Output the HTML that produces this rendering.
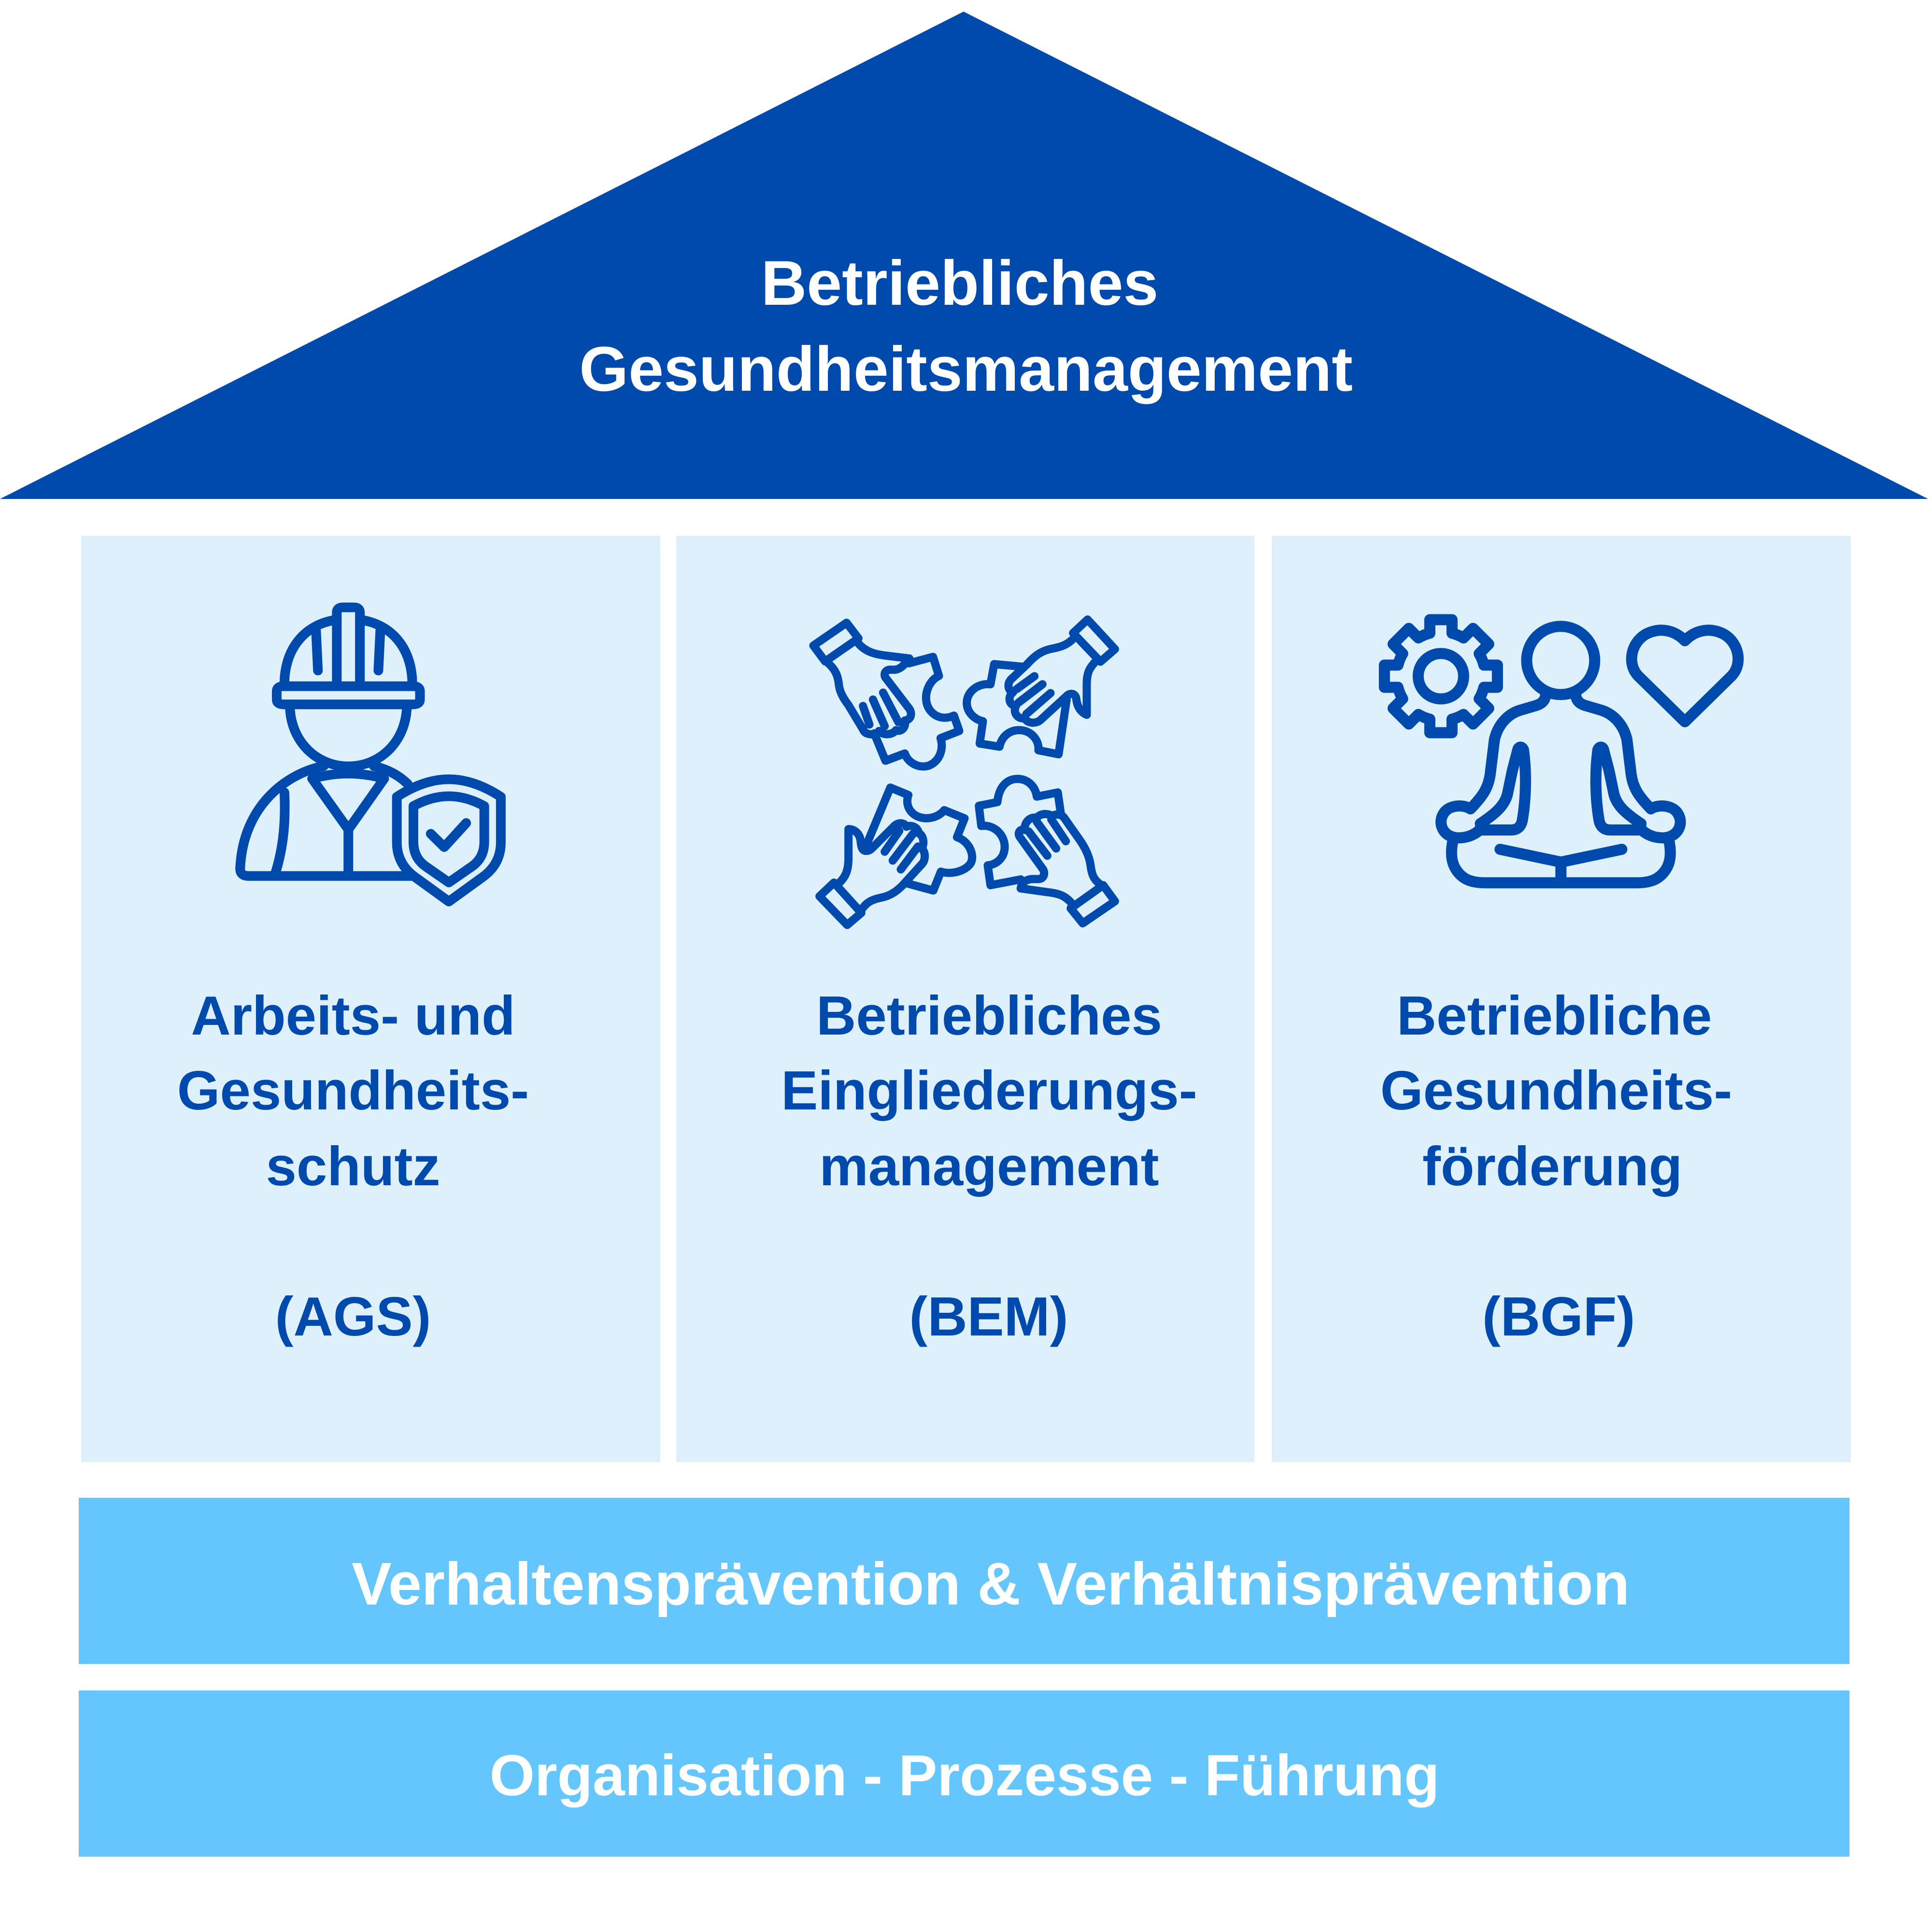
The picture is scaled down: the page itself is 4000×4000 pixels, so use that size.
<!DOCTYPE html>
<html>
<head>
<meta charset="utf-8">
<style>
html,body{margin:0;padding:0;background:#fff;width:4000px;height:4000px;overflow:hidden}
svg{display:block}
</style>
</head>
<body>
<svg width="4000" height="4000" viewBox="0 0 4000 4000" xmlns="http://www.w3.org/2000/svg" xmlns:xlink="http://www.w3.org/1999/xlink">
<rect width="4000" height="4000" fill="#ffffff"/>

<!-- Roof -->
<polygon points="0,1033 1995,24 3992,1033" fill="#004aad"/>

<g font-family="'Liberation Sans', Arial, sans-serif" font-weight="bold" text-anchor="middle">
  <text x="1987" y="631" font-size="131" fill="#ffffff">Betriebliches</text>
  <text x="2000" y="809" font-size="131" fill="#ffffff">Gesundheitsmanagement</text>
</g>

<!-- Columns -->
<rect x="168" y="1109" width="1199" height="1918" fill="#def0fc"/>
<rect x="1400" y="1109" width="1197" height="1918" fill="#def0fc"/>
<rect x="2633" y="1109" width="1199" height="1918" fill="#def0fc"/>

<!-- Bars -->
<rect x="163" y="3101" width="3666" height="344" fill="#65c6fe"/>
<rect x="163" y="3500" width="3666" height="344" fill="#65c6fe"/>

<g font-family="'Liberation Sans', Arial, sans-serif" font-weight="bold" text-anchor="middle" fill="#ffffff">
  <text x="2051" y="3322" font-size="124">Verhaltensprävention &amp; Verhältnisprävention</text>
  <text x="1997" y="3717" font-size="120">Organisation - Prozesse - Führung</text>
</g>

<!-- Column texts -->
<g font-family="'Liberation Sans', Arial, sans-serif" font-weight="bold" text-anchor="middle" fill="#004aad" font-size="114">
  <text x="731" y="2142">Arbeits- und</text>
  <text x="731" y="2297">Gesundheits-</text>
  <text x="731" y="2454">schutz</text>
  <text x="731" y="2765">(AGS)</text>

  <text x="2048" y="2142">Betriebliches</text>
  <text x="2048" y="2297">Eingliederungs-</text>
  <text x="2048" y="2454">management</text>
  <text x="2047" y="2765">(BEM)</text>

  <text x="3218" y="2142">Betriebliche</text>
  <text x="3222" y="2297">Gesundheits-</text>
  <text x="3214" y="2454">förderung</text>
  <text x="3227" y="2765">(BGF)</text>
</g>

<!-- Icon 1: worker with shield -->
<svg x="160" y="1100" width="1250" height="1000" viewBox="0 0 1568 1568" preserveAspectRatio="none" overflow="visible">
  <g fill="none" stroke="#004aad" stroke-width="20" stroke-linecap="round" stroke-linejoin="round">
    <path vector-effect="non-scaling-stroke" d="M538 490 C540 375 595 300 674 287"/>
    <path vector-effect="non-scaling-stroke" d="M734 287 C813 300 868 375 870 490"/>
    <path vector-effect="non-scaling-stroke" d="M674 490 L674 264 Q674 247 690 247 L718 247 Q734 247 734 264 L734 490"/>
    <path vector-effect="non-scaling-stroke" d="M620 322 L625 452"/>
    <path vector-effect="non-scaling-stroke" d="M787 322 L782 452"/>
    <path vector-effect="non-scaling-stroke" d="M536 503 L872 503 Q890 503 890 520 L890 545 Q890 562 872 562 L536 562 Q518 562 518 545 L518 520 Q518 503 536 503 Z"/>
    <path vector-effect="non-scaling-stroke" d="M552 562 C552 680 620 763 704 763 C788 763 856 680 856 562"/>
    <path vector-effect="non-scaling-stroke" d="M423 1095 C430 890 545 785 640 762"/>
    <path vector-effect="non-scaling-stroke" d="M770 762 C805 772 835 792 858 820"/>
    <path vector-effect="non-scaling-stroke" d="M423 1095 Q423 1119 445 1119 L868 1119"/>
    <path vector-effect="non-scaling-stroke" d="M610 803 Q704 770 797 803"/>
    <path vector-effect="non-scaling-stroke" d="M610 803 L704 968 L797 803"/>
    <path vector-effect="non-scaling-stroke" d="M704 968 L704 1119"/>
    <path vector-effect="non-scaling-stroke" d="M538 848 C542 960 532 1040 514 1112"/>
    <path vector-effect="non-scaling-stroke" d="M830 862 Q900 805 965 805 Q1030 805 1100 862 L1100 1010 Q1100 1082 1050 1125 L965 1202 L880 1125 Q830 1082 830 1010 Z"/>
    <path vector-effect="non-scaling-stroke" d="M873 892 Q920 860 965 860 Q1010 860 1057 892 L1057 1008 Q1057 1060 1025 1088 L965 1140 L905 1088 Q873 1060 873 1008 Z"/>
    <path vector-effect="non-scaling-stroke" d="M918 982 L953 1025 L1010 947"/>
  </g>
</svg>

<!-- Icon 2: hands with puzzle pieces (four quadrants) -->
<!-- Top-left -->
<svg x="1660" y="1260" width="330" height="330" viewBox="0 0 990 990" overflow="visible">
  <g fill="none" stroke="#004aad" stroke-width="51" stroke-linecap="round" stroke-linejoin="round">
    <path d="M72 230 L278 88 L352 185 L145 328 Z"/>
    <path d="M350 215 C390 262 440 282 520 292 L668 310"/>
    <path d="M668 310 C640 345 615 378 575 380 L545 380 C515 382 505 415 525 435 L660 612"/>
    <path d="M660 612 C695 650 675 695 640 695 C650 740 615 770 585 755 C565 785 505 790 480 760 C465 785 405 790 385 760"/>
    <path d="M165 340 C210 380 225 420 230 470 C235 520 260 560 290 600 L385 758"/>
    <path d="M380 605 L420 720 M442 565 L515 730 M505 522 L600 705"/>
    <path d="M665 340 L815 300 L852 418 C780 450 748 560 792 625 C830 680 890 690 945 665 L978 760 L862 805 C882 870 860 945 790 975 C730 995 660 960 640 900 L520 945 L450 775"/>
  </g>
</svg>
<!-- Top-right -->
<svg x="1990" y="1260" width="330" height="330" viewBox="0 0 990 990" overflow="visible">
  <g fill="none" stroke="#004aad" stroke-width="51" stroke-linecap="round" stroke-linejoin="round">
    <path d="M695 152 L785 68 L955 252 L865 330 Z"/>
    <path d="M688 195 C650 230 610 240 560 250 C500 262 460 290 410 345 L320 430"/>
    <path d="M320 430 C280 460 290 512 322 520 C285 548 298 602 340 605 C320 642 348 690 395 680 C412 718 470 715 495 690 L650 548"/>
    <path d="M650 548 C680 515 712 530 715 562 C720 602 735 640 780 660 L780 470 C780 400 795 370 838 325"/>
    <path d="M455 420 L345 500 M505 470 L355 585 M555 525 L405 655"/>
    <path d="M392 362 L205 345 L182 470 C100 462 32 520 35 590 C38 650 88 690 135 700 L115 838 L238 858 C252 790 305 755 360 755 C430 755 485 812 480 880 L605 905 L655 565"/>
  </g>
</svg>
<!-- Bottom-left -->
<svg x="1660" y="1590" width="330" height="330" viewBox="0 0 990 990" overflow="visible">
  <g fill="none" stroke="#004aad" stroke-width="51" stroke-linecap="round" stroke-linejoin="round">
    <path d="M110 797 L200 712 L370 900 L282 975 Z"/>
    <path d="M375 875 C405 830 445 815 495 805 C545 795 585 770 625 730 L745 598"/>
    <path d="M228 718 C270 680 290 640 290 560 L290 380 C330 380 360 410 365 450 C368 490 375 515 400 515 C420 515 430 505 440 495 L575 360"/>
    <path d="M575 360 C600 335 640 340 650 365 C680 350 725 370 725 405 C755 415 765 470 745 500 C770 520 770 575 745 598"/>
    <path d="M515 520 L605 392 M565 575 L690 410 M615 630 L722 488"/>
    <path d="M405 470 L550 122 L662 168 C638 235 680 305 765 312 C820 315 862 290 885 262 L1011 313 L964 430 C1040 455 1075 540 1050 590 C1020 640 930 665 864 644 L817 761 L647 715"/>
  </g>
</svg>
<!-- Bottom-right -->
<svg x="1990" y="1590" width="330" height="330" viewBox="0 0 990 990" overflow="visible">
  <g fill="none" stroke="#004aad" stroke-width="51" stroke-linecap="round" stroke-linejoin="round">
    <path d="M680 872 L755 965 L955 828 L882 728 Z"/>
    <path d="M690 845 C650 795 610 780 540 772 L370 748"/>
    <path d="M370 748 C375 712 405 690 445 690 L480 690 C515 690 525 650 505 625 L365 430"/>
    <path d="M365 430 C345 400 370 375 395 385 C390 335 430 300 470 310 C490 280 545 280 565 300 C590 280 625 290 640 310 L735 445 C770 495 795 545 803 600 C810 655 820 690 858 718"/>
    <path d="M420 395 L535 545 M470 335 L590 500 M560 320 L650 455"/>
    <path d="M620 290 L600 152 L470 178 C460 110 410 68 350 68 C290 68 235 110 225 212 L110 235 L125 360 C210 350 275 420 270 500 C265 560 220 600 165 605 L182 728 L370 692"/>
  </g>
</svg>

<!-- Icon 3: meditation, gear, heart -->
<svg x="2820" y="1240" width="800" height="640" viewBox="0 0 1568 1568" preserveAspectRatio="none" overflow="visible">
  <defs>
    <path id="tooth" vector-effect="non-scaling-stroke" fill="none" stroke="#004aad" stroke-width="23" stroke-linecap="round" stroke-linejoin="round"
      d="M-23 -89 L-23 -117 L23 -117 L23 -89 A92 92 0 0 1 46.7 -79.3"/>
  </defs>
  <g transform="translate(320 392) scale(1.96 2.45)">
    <use xlink:href="#tooth" href="#tooth"/>
    <use xlink:href="#tooth" href="#tooth" transform="rotate(45)"/>
    <use xlink:href="#tooth" href="#tooth" transform="rotate(90)"/>
    <use xlink:href="#tooth" href="#tooth" transform="rotate(135)"/>
    <use xlink:href="#tooth" href="#tooth" transform="rotate(180)"/>
    <use xlink:href="#tooth" href="#tooth" transform="rotate(225)"/>
    <use xlink:href="#tooth" href="#tooth" transform="rotate(270)"/>
    <use xlink:href="#tooth" href="#tooth" transform="rotate(315)"/>
    <circle vector-effect="non-scaling-stroke" cx="0" cy="0" r="47" fill="none" stroke="#004aad" stroke-width="23"/>
  </g>
  <g fill="none" stroke="#004aad" stroke-width="23" stroke-linecap="round" stroke-linejoin="round">
    <ellipse vector-effect="non-scaling-stroke" cx="806" cy="312" rx="138" ry="173"/>
    <path vector-effect="non-scaling-stroke" d="M745 488 C742 520 725 535 700 543 L640 565 C590 585 550 640 537 715 L520 890 C512 960 490 1000 440 1065 C410 1040 350 1045 330 1090 C305 1140 330 1210 390 1212 C430 1212 455 1195 475 1175"/>
    <path vector-effect="non-scaling-stroke" d="M475 1172 L605 1172 C630 1172 645 1155 650 1125 C665 1020 668 880 655 765 C648 745 635 750 632 765 L610 870 L590 990 C578 1050 540 1090 480 1140"/>
    <path vector-effect="non-scaling-stroke" d="M867 488 C870 520 887 535 912 543 L972 565 C1022 585 1062 640 1075 715 L1092 890 C1100 960 1122 1000 1172 1065 C1202 1040 1262 1045 1282 1090 C1307 1140 1282 1210 1222 1212 C1182 1212 1157 1195 1137 1175"/>
    <path vector-effect="non-scaling-stroke" d="M1137 1172 L1007 1172 C982 1172 967 1155 962 1125 C947 1020 944 880 957 765 C964 745 977 750 980 765 L1002 870 L1022 990 C1034 1050 1072 1090 1132 1140"/>
    <path vector-effect="non-scaling-stroke" d="M368 1230 C360 1280 360 1330 380 1370 C405 1420 440 1440 500 1440 L1114 1440 C1174 1440 1209 1420 1234 1370 C1254 1330 1254 1280 1246 1230"/>
    <path vector-effect="non-scaling-stroke" d="M560 1270 L807 1335 L1054 1270 M807 1335 L807 1440"/>
    <path vector-effect="non-scaling-stroke" d="M1310 623 L1120 390 C1075 330 1090 225 1150 180 C1210 140 1270 160 1310 212 C1350 160 1410 140 1470 180 C1530 225 1545 330 1500 390 Z"/>
  </g>
</svg>

</svg>
</body>
</html>
